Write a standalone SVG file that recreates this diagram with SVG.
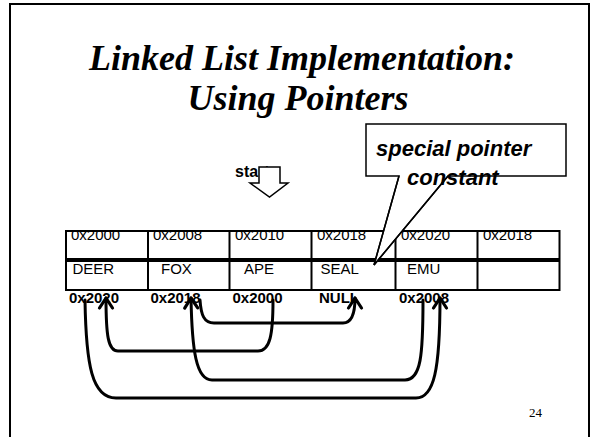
<svg xmlns="http://www.w3.org/2000/svg" width="594" height="437" viewBox="0 0 594 437">
  <style>
    .title { font-family: "Liberation Serif", "Times New Roman", serif; font-weight: bold; font-style: italic; font-size: 36px; fill: #000; }
    .cell { fill: none; stroke: #000; stroke-width: 2; }
    .addr { font-family: "Liberation Sans", Arial, sans-serif; font-size: 15px; fill: #000; }
    .ptr { font-family: "Liberation Sans", Arial, sans-serif; font-size: 15px; font-weight: bold; fill: #000; }
    .link { fill: none; stroke: #000; stroke-width: 3; stroke-linecap: round; stroke-linejoin: round; }
    .note { font-family: "Liberation Sans", Arial, sans-serif; font-size: 22px; font-weight: bold; font-style: italic; fill: #000; }
  </style>
  <defs>
    <marker id="head" markerUnits="userSpaceOnUse" markerWidth="20" markerHeight="20" refX="0" refY="0" viewBox="-12 -10 16 20" orient="auto">
      <polyline points="-10,-6.5 0,0 -10,6.5" fill="none" stroke="#000" stroke-width="3.2" stroke-linecap="round" stroke-linejoin="round"/>
    </marker>
  </defs>

  <rect width="594" height="437" fill="#fff"/>

  <!-- slide frame (open at the bottom) -->
  <path d="M10,440 L10,4 L589,4 L589,440" fill="none" stroke="#000" stroke-width="2"/>

  <!-- title -->
  <g id="title">
    <text class="title" x="302" y="70" text-anchor="middle">Linked List Implementation:</text>
    <text class="title" x="298" y="110" text-anchor="middle">Using Pointers</text>
  </g>

  <!-- start pointer -->
  <g id="start">
    <text x="235" y="177" font-family="Liberation Sans, Arial, sans-serif" font-size="16" font-weight="bold">start</text>
    <polygon points="259,167 280,167 280,183 288,183 269.5,197 250,183 259,183" fill="#fff" stroke="#000" stroke-width="1.5"/>
  </g>

  <!-- memory table -->
  <g id="memory">
    <rect class="cell" x="66" y="231" width="493.5" height="28"/>
    <rect class="cell" x="66" y="261" width="493.5" height="29"/>
    <path class="cell" d="M148,231 V290 M229.5,231 V290 M311.5,231 V290 M395.5,231 V290 M477.5,231 V290"/>
    <text class="addr" x="71" y="240">0x2000</text>
    <text class="addr" x="153" y="240">0x2008</text>
    <text class="addr" x="235" y="240">0x2010</text>
    <text class="addr" x="317" y="240">0x2018</text>
    <text class="addr" x="401" y="240">0x2020</text>
    <text class="addr" x="483" y="240">0x2018</text>
    <text class="addr" x="72.5" y="274">DEER</text>
    <text class="addr" x="161" y="274">FOX</text>
    <text class="addr" x="244" y="274">APE</text>
    <text class="addr" x="320.5" y="274">SEAL</text>
    <text class="addr" x="407" y="274">EMU</text>
    <text class="ptr" x="69" y="303">0x2020</text>
    <text class="ptr" x="150.5" y="303">0x2018</text>
    <text class="ptr" x="232.5" y="303">0x2000</text>
    <text class="ptr" x="319" y="303">NULL</text>
    <text class="ptr" x="399" y="303">0x2008</text>
  </g>

  <!-- callout -->
  <g id="callout">
    <path d="M399,176 L366,176 L366,124 L566,124 L566,176 L448,176 L374,265 Z" fill="#fff" stroke="#000" stroke-width="1.5"/>
    <text class="note" x="376" y="156">special pointer</text>
    <text class="note" x="407" y="185">constant</text>
    <path d="M399,176 L374,265 L448,176" fill="none" stroke="#000" stroke-width="1.5"/>
  </g>

  <!-- next-pointer links -->
  <g id="links">
    <path class="link" marker-end="url(#head)" d="M85,300 C86,365 92,398 116,398 L416,398 C434,398 440,370 440,298"/>
    <path class="link" marker-end="url(#head)" d="M423,300 C423,355 421,380 405,380 L212,380 C196,380 192,350 191,298"/>
    <path class="link" marker-end="url(#head)" d="M273,300 C273,335 270,351 258,351 L118,351 C108,351 106,335 106,298"/>
    <path class="link" marker-end="url(#head)" d="M200,300 C201,315 204,323 214,323 L343,323 C351,323 355,315 355,298"/>
  </g>

  <!-- page number -->
  <text x="529" y="417" font-family="Liberation Serif, Times New Roman, serif" font-size="13">24</text>
</svg>
